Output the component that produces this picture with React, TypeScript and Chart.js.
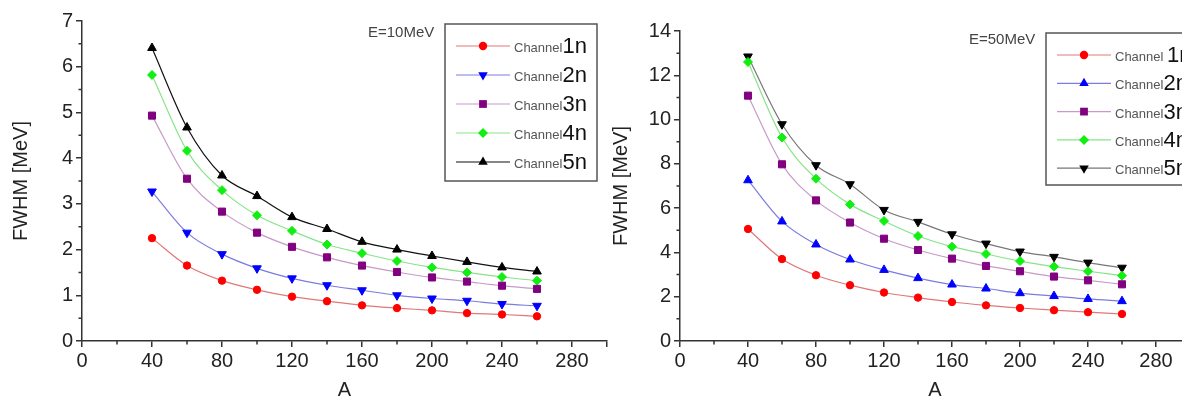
import React, { useEffect, useRef } from 'react';
import { Chart, registerables } from 'chart.js';

Chart.register(...registerables);

// ---------- data ----------
const massNumbers = [40, 60, 80, 100, 120, 140, 160, 180, 200, 220, 240, 260];

const e10Ch1 = [2.25, 1.65, 1.32, 1.12, 0.97, 0.87, 0.78, 0.72, 0.67, 0.61, 0.58, 0.54];
const e10Ch2 = [3.27, 2.37, 1.9, 1.59, 1.37, 1.22, 1.11, 1.0, 0.93, 0.88, 0.81, 0.77];
const e10Ch3 = [4.93, 3.55, 2.83, 2.37, 2.06, 1.83, 1.65, 1.51, 1.39, 1.3, 1.21, 1.14];
const e10Ch4 = [5.82, 4.16, 3.3, 2.75, 2.41, 2.11, 1.92, 1.75, 1.61, 1.5, 1.4, 1.32];
const e10Ch5 = [6.41, 4.67, 3.62, 3.17, 2.71, 2.45, 2.17, 2.0, 1.86, 1.73, 1.61, 1.52];

const e50Ch1 = [5.06, 3.7, 2.97, 2.52, 2.19, 1.96, 1.76, 1.61, 1.49, 1.39, 1.3, 1.22];
const e50Ch2 = [7.26, 5.4, 4.36, 3.68, 3.21, 2.84, 2.55, 2.37, 2.16, 2.03, 1.9, 1.8];
const e50Ch3 = [11.08, 7.98, 6.35, 5.35, 4.62, 4.11, 3.72, 3.39, 3.15, 2.91, 2.74, 2.56];
const e50Ch4 = [12.6, 9.19, 7.33, 6.17, 5.42, 4.74, 4.26, 3.93, 3.61, 3.36, 3.15, 2.95];
const e50Ch5 = [12.85, 9.79, 7.94, 7.08, 5.92, 5.38, 4.82, 4.4, 4.04, 3.8, 3.54, 3.31];

const channelNames = ['1n', '2n', '3n', '4n', '5n'];
const xTickValues = [0, 40, 80, 120, 160, 200, 240, 280, 300];
const xTickLabels = ['0', '40', '80', '120', '160', '200', '240', '280', ''];
const xMinorTicks = [20, 60, 100, 140, 180, 220, 260];
const yMinorTicksE10 = [0.5, 1.5, 2.5, 3.5, 4.5, 5.5, 6.5];
const yMinorTicksE50 = [1, 3, 5, 7, 9, 11, 13];

const FONT = "'Liberation Sans', Arial, sans-serif";
const AXIS = '#333333';

type Marker = { style: string; rotation: number; color: string; line: string; radius: number };

function drawMarker(ctx: CanvasRenderingContext2D, m: Marker, x: number, y: number) {
  const r = m.radius;
  ctx.save();
  ctx.fillStyle = m.color;
  ctx.beginPath();
  if (m.style === 'circle') {
    ctx.arc(x, y, r, 0, Math.PI * 2);
  } else if (m.style === 'triangle') {
    let rad = (m.rotation * Math.PI) / 180;
    ctx.moveTo(x + Math.sin(rad) * r, y - Math.cos(rad) * r);
    rad += (2 * Math.PI) / 3;
    ctx.lineTo(x + Math.sin(rad) * r, y - Math.cos(rad) * r);
    rad += (2 * Math.PI) / 3;
    ctx.lineTo(x + Math.sin(rad) * r, y - Math.cos(rad) * r);
  } else if (m.style === 'rect') {
    const s = Math.SQRT1_2 * r;
    ctx.rect(x - s, y - s, 2 * s, 2 * s);
  } else {
    ctx.moveTo(x - r, y);
    ctx.lineTo(x, y - r);
    ctx.lineTo(x + r, y);
    ctx.lineTo(x, y + r);
  }
  ctx.closePath();
  ctx.fill();
  ctx.restore();
}

const panelPlugin = {
  id: 'panelDecor',
  afterDraw(chart: any, _args: any, opts: any) {
    const ctx: CanvasRenderingContext2D = chart.ctx;
    const xs = chart.scales.x;
    const ys = chart.scales.y;
    // minor ticks
    ctx.save();
    ctx.strokeStyle = AXIS;
    ctx.lineWidth = 1.5;
    ctx.beginPath();
    for (const v of opts.xMinor) {
      const px = xs.getPixelForValue(v);
      ctx.moveTo(px, xs.top);
      ctx.lineTo(px, xs.top + 3.5);
    }
    for (const v of opts.yMinor) {
      const py = ys.getPixelForValue(v);
      ctx.moveTo(ys.right - 3.5, py);
      ctx.lineTo(ys.right, py);
    }
    ctx.stroke();
    ctx.restore();

    // energy label
    ctx.save();
    ctx.font = `15px ${FONT}`;
    ctx.fillStyle = '#444';
    ctx.textBaseline = 'middle';
    ctx.textAlign = 'left';
    ctx.fillText(opts.energy, opts.energyX, opts.energyY);
    ctx.restore();

    // legend box
    const b = opts.box;
    ctx.save();
    ctx.fillStyle = '#ffffff';
    ctx.fillRect(b.x, b.y, b.w, b.h);
    ctx.strokeStyle = '#555';
    ctx.lineWidth = 1.5;
    ctx.strokeRect(b.x, b.y, b.w, b.h);
    ctx.restore();

    const markers: Marker[] = opts.markers;
    markers.forEach((m, i) => {
      const rowY = opts.rowStart + i * opts.rowGap;
      ctx.save();
      ctx.strokeStyle = m.line;
      ctx.lineWidth = 1.2;
      ctx.beginPath();
      ctx.moveTo(b.x + 11, rowY);
      ctx.lineTo(b.x + 65, rowY);
      ctx.stroke();
      ctx.restore();
      drawMarker(ctx, m, b.x + 38, rowY);
      ctx.save();
      ctx.textBaseline = 'alphabetic';
      ctx.textAlign = 'left';
      ctx.font = `13px ${FONT}`;
      ctx.fillStyle = '#555';
      const labelBase = rowY + 6;
      const word = 'Channel' + (opts.spaceFirst && i === 0 ? ' ' : '');
      ctx.fillText(word, b.x + 69, labelBase);
      const w = ctx.measureText(word).width;
      ctx.font = `22px ${FONT}`;
      ctx.fillStyle = '#111';
      ctx.fillText(channelNames[i], b.x + 69 + w, labelBase + 1);
      ctx.restore();
    });
  },
};

function makeDataset(label: string, data: number[], m: Marker) {
  return {
    label,
    data: massNumbers.map((x, i) => ({ x, y: data[i] })),
    borderColor: m.line,
    borderWidth: 1.2,
    backgroundColor: m.color,
    pointBackgroundColor: m.color,
    pointBorderColor: m.color,
    pointBorderWidth: 1,
    pointStyle: m.style,
    pointRotation: m.rotation,
    pointRadius: m.radius - 0.5,
    cubicInterpolationMode: 'monotone',
    fill: false,
  };
}

const markersE10: Marker[] = [
  { style: 'circle', rotation: 0, color: '#ff0000', line: '#e07878', radius: 4.2 },
  { style: 'triangle', rotation: 180, color: '#0000ff', line: '#7c7ce0', radius: 5.5 },
  { style: 'rect', rotation: 0, color: '#800080', line: '#c79ac7', radius: 5.5 },
  { style: 'rectRot', rotation: 0, color: '#11ee11', line: '#88e488', radius: 5 },
  { style: 'triangle', rotation: 0, color: '#000000', line: '#111111', radius: 5.5 },
];

const markersE50: Marker[] = [
  { style: 'circle', rotation: 0, color: '#ff0000', line: '#e07878', radius: 4.2 },
  { style: 'triangle', rotation: 0, color: '#0000ff', line: '#7c7ce0', radius: 5.5 },
  { style: 'rect', rotation: 0, color: '#800080', line: '#c79ac7', radius: 5.5 },
  { style: 'rectRot', rotation: 0, color: '#11ee11', line: '#88e488', radius: 5 },
  { style: 'triangle', rotation: 180, color: '#000000', line: '#777777', radius: 5.5 },
];

function buildConfig(p: {
  series: number[][];
  markers: Marker[];
  yMax: number;
  yStep: number;
  yMinor: number[];
  padTop: number;
  padRight: number;
  yWidth: number;
  energy: string;
  energyX: number;
  energyY: number;
  box: { x: number; y: number; w: number; h: number };
  rowStart: number;
  rowGap: number;
  spaceFirst: boolean;
}) {
  const tickFont = { size: 20, family: FONT };
  return {
    type: 'line',
    data: {
      datasets: p.series.map((s, i) => makeDataset('Channel ' + channelNames[i], s, p.markers[i])),
    },
    options: {
      animation: false,
      responsive: false,
      events: [],
      layout: { padding: { top: p.padTop, right: p.padRight, bottom: 0, left: 0 } },
      plugins: {
        legend: { display: false },
        tooltip: { enabled: false },
        panelDecor: {
          xMinor: xMinorTicks,
          yMinor: p.yMinor,
          energy: p.energy,
          energyX: p.energyX,
          energyY: p.energyY,
          box: p.box,
          rowStart: p.rowStart,
          rowGap: p.rowGap,
          markers: p.markers,
          spaceFirst: p.spaceFirst,
        },
      },
      scales: {
        x: {
          type: 'linear',
          min: 0,
          max: 300,
          afterFit: (s: any) => {
            s.height = 60;
          },
          afterBuildTicks: (s: any) => {
            s.ticks = xTickValues.map((v) => ({ value: v }));
          },
          grid: { drawOnChartArea: false, tickLength: 6, color: AXIS, lineWidth: 1.5 },
          border: { color: AXIS, width: 1.5 },
          ticks: {
            padding: 2,
            color: '#222',
            font: tickFont,
            maxRotation: 0,
            autoSkip: false,
            callback: (v: number) => {
              const idx = xTickValues.indexOf(v);
              return idx >= 0 ? xTickLabels[idx] : '';
            },
          },
          title: {
            display: true,
            text: 'A',
            color: '#222',
            font: { size: 20, family: FONT, lineHeight: 1 },
            padding: { top: 0, bottom: 1 },
          },
        },
        y: {
          type: 'linear',
          min: 0,
          max: p.yMax,
          afterFit: (s: any) => {
            s.width = p.yWidth;
          },
          grid: { drawOnChartArea: false, tickLength: 6, color: AXIS, lineWidth: 1.5 },
          border: { color: AXIS, width: 1.5 },
          ticks: { stepSize: p.yStep, padding: 3, color: '#222', font: tickFont },
          title: {
            display: true,
            text: 'FWHM [MeV]',
            color: '#222',
            font: { size: 20, family: FONT, lineHeight: 1.2 },
            padding: { top: 9, bottom: 0 },
          },
        },
      },
    },
    plugins: [panelPlugin],
  };
}

function ChartPanel({ config, left, width }: { config: any; left: number; width: number }) {
  const ref = useRef<HTMLCanvasElement | null>(null);
  useEffect(() => {
    if (!ref.current) return;
    const chart = new Chart(ref.current, config);
    return () => chart.destroy();
  }, [config]);
  return (
    <canvas
      ref={ref}
      width={width}
      height={401}
      style={{ position: 'absolute', left, top: 0, width, height: 401 }}
    />
  );
}

const configE10 = buildConfig({
  series: [e10Ch1, e10Ch2, e10Ch3, e10Ch4, e10Ch5],
  markers: markersE10,
  yMax: 7,
  yStep: 1,
  yMinor: yMinorTicksE10,
  padTop: 21,
  padRight: 13,
  yWidth: 82,
  energy: 'E=10MeV',
  energyX: 368,
  energyY: 33,
  box: { x: 445, y: 24, w: 152, h: 157 },
  rowStart: 46,
  rowGap: 29,
  spaceFirst: false,
});

const configE50 = buildConfig({
  series: [e50Ch1, e50Ch2, e50Ch3, e50Ch4, e50Ch5],
  markers: markersE50,
  yMax: 14,
  yStep: 2,
  yMinor: yMinorTicksE50,
  padTop: 31,
  padRight: 30,
  yWidth: 80,
  energy: 'E=50MeV',
  energyX: 369,
  energyY: 40,
  box: { x: 446, y: 33, w: 160, h: 152 },
  rowStart: 55,
  rowGap: 28.3,
  spaceFirst: true,
});

export default function App() {
  return (
    <div
      style={{
        position: 'fixed',
        left: 0,
        top: 0,
        width: 1182,
        height: 401,
        overflow: 'hidden',
        background: '#ffffff',
      }}
    >
      <ChartPanel config={configE10} left={0} width={620} />
      <ChartPanel config={configE50} left={600} width={620} />
    </div>
  );
}
